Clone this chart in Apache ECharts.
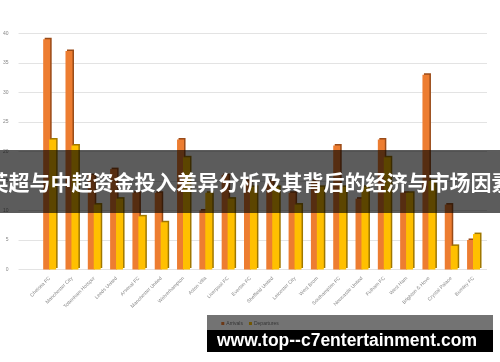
<!DOCTYPE html>
<html>
<head>
<meta charset="utf-8">
<script src="https://cdn.jsdelivr.net/npm/echarts@6/dist/echarts.min.js"></script>
<style>
html,body{margin:0;padding:0;background:#fff;}
#main{width:500px;height:362px;}
</style>
</head>
<body>
<div id="main"></div>
<script>
const categories = ['Chelsea FC','Manchester City','Tottenham Hotspur','Leeds United','Arsenal FC','Manchester United','Wolverhampton','Aston Villa','Liverpool FC','Everton FC','Sheffield United','Leicester City','West Brom','Southampton FC','Newcastle United','Fulham FC','West Ham','Brighton & Hove','Crystal Palace','Burnley FC'];
const arrivals   = [39,37,16,17,13,13,22,10,16,15,15,13,15,21,12,22,13,33,11,5];
const departures = [22,21,11,12,9,8,19,13,12,14,14,11,14,14,14,19,13,15,4,6];
const seriesNames = ['Arrivals','Departures'];
const titleText = '英超与中超资金投入差异分析及其背后的经济与市场因素';
const watermark = 'www.top--c7entertainment.com';

const chart = echarts.init(document.getElementById('main'));
chart.setOption({
  backgroundColor:'#fff',
  animation:false,
  grid:[
    {left:17, right:13, top:33.3, bottom:92.5},
    {left:38.5, right:15.3, top:33.3, bottom:92.5}
  ],
  xAxis:[
    {gridIndex:0, type:'value', show:false, min:0, max:1},
    {gridIndex:1, type:'category', data:categories,
     axisLine:{show:false}, axisTick:{show:false},
     axisLabel:{rotate:45, fontSize:5, color:'#888', margin:8, interval:0, fontFamily:'Liberation Sans'}}
  ],
  yAxis:[
    {gridIndex:0, type:'value', min:0, max:40, interval:5,
     axisLine:{show:false}, axisTick:{show:false},
     axisLabel:{fontSize:5, color:'#888', margin:10, fontFamily:'Liberation Sans'},
     splitLine:{lineStyle:{color:'#e3e3e3', width:1}}},
    {gridIndex:1, type:'value', min:0, max:40, interval:5, show:false}
  ],
  legend:{
    data:seriesNames, bottom:31, left:'center', itemWidth:3, itemHeight:3, itemGap:6,
    icon:'rect', textStyle:{fontSize:5, color:'#777', fontFamily:'Liberation Sans', padding:[0,0,0,-3]}
  },
  series:[
    {name:seriesNames[0], type:'bar', xAxisIndex:1, yAxisIndex:1, data:arrivals,
     barWidth:7, barGap:'-15%',
     itemStyle:{color:'#ED7D31', shadowColor:'#9a4b18', shadowOffsetX:1.5, shadowOffsetY:-1.5, shadowBlur:0}},
    {name:seriesNames[1], type:'bar', xAxisIndex:1, yAxisIndex:1, data:departures,
     barWidth:7,
     itemStyle:{color:'#FFC000', shadowColor:'#a07800', shadowOffsetX:1.5, shadowOffsetY:-1.5, shadowBlur:0}}
  ],
  graphic:[
    {type:'rect', z:100, shape:{x:0,y:150,width:500,height:63}, style:{fill:'rgba(0,0,0,0.64)'}},
    {type:'text', z:101, x:250, y:182, style:{text:titleText, fill:'#fff', font:'bold 21px "Noto Sans CJK SC"', textAlign:'center', textVerticalAlign:'middle'}},
    {type:'rect', z:100, shape:{x:207,y:315,width:286,height:15}, style:{fill:'rgba(0,0,0,0.55)'}},
    {type:'rect', z:100, shape:{x:207,y:330,width:286,height:22}, style:{fill:'#000'}},
    {type:'text', z:101, x:217, y:341, style:{text:watermark, fill:'#fff', font:'bold 17.5px "Liberation Sans"', textAlign:'left', textVerticalAlign:'middle'}}
  ]
});
</script>
</body>
</html>
